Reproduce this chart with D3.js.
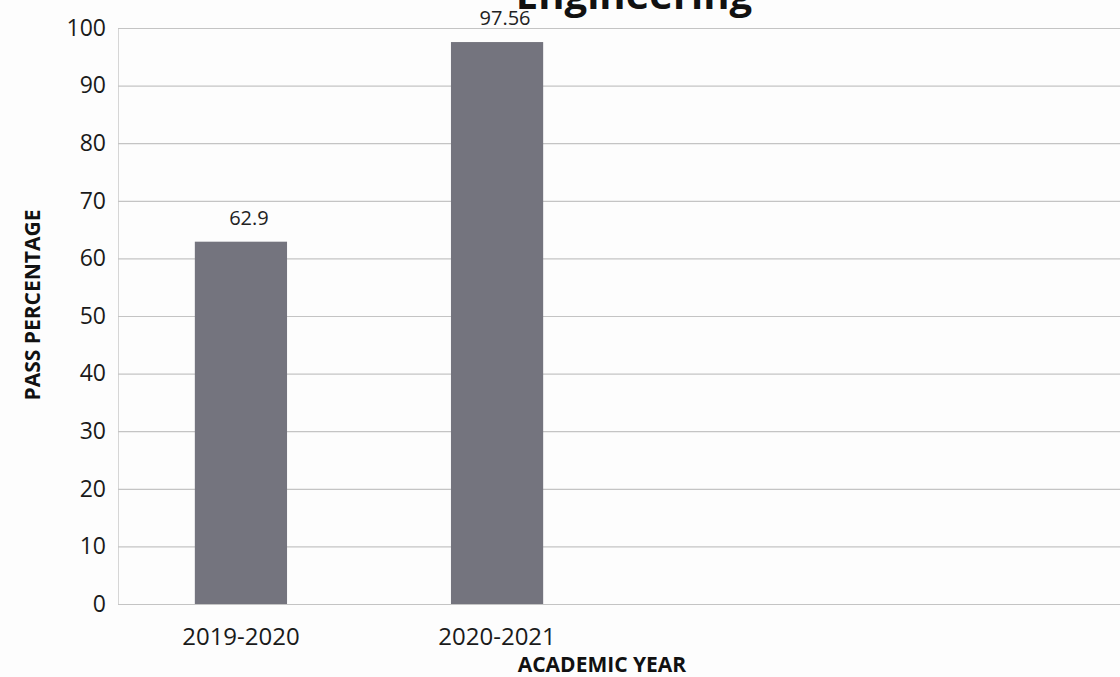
<!DOCTYPE html>
<html><head><meta charset="utf-8">
<script src="https://cdn.jsdelivr.net/npm/d3@7"></script>
<style>body{margin:0;background:#fdfdfd}svg{display:block}</style>
</head><body>
<svg id="c" width="1120" height="677"></svg>
<script>
const categories = ["2019-2020", "2020-2021"];
const passPct = [62.9, 97.56];
const yTicks = [0, 10, 20, 30, 40, 50, 60, 70, 80, 90, 100];
const chartTitle = "Engineering";
const yTitle = "PASS PERCENTAGE";
const xTitle = "ACADEMIC YEAR";

(function () {
const svg = d3.select("#c");
const font = "'Open Sans', 'Noto Sans', sans-serif";
const mLeft = 118, mRight = 1120, mTop = 28, mBottom = 604;

const y = d3.scaleLinear().domain([0, 100]).range([mBottom, mTop]);
const x = d3.scaleBand().domain(categories).range([mLeft, mLeft + 2 * 251]).paddingInner(0.64).paddingOuter(0.30);

// gridlines
const yAxis = d3.axisLeft(y).tickValues(yTicks).tickSize(-(mRight - mLeft)).tickPadding(12).tickFormat(d3.format("d"));
const gy = svg.append("g").attr("transform", `translate(${mLeft},0)`).call(yAxis);
gy.select(".domain").attr("stroke", "#d6d6d6");
gy.selectAll(".tick line").attr("stroke", "#c4c4c4").attr("stroke-width", 1.2);
gy.selectAll(".tick text").attr("font-family", font).attr("font-size", 23).attr("fill", "#1a1a1a");

// bars
svg.append("g").selectAll("rect").data(passPct).join("rect")
  .attr("x", (d, i) => x(categories[i]))
  .attr("width", x.bandwidth())
  .attr("y", d => y(d))
  .attr("height", d => y(0) - y(d))
  .attr("fill", "#74747e");

// value labels
svg.append("g").selectAll("text").data(passPct).join("text")
  .attr("x", (d, i) => x(categories[i]) + x.bandwidth() / 2 + 8)
  .attr("y", d => y(d) - 17)
  .attr("text-anchor", "middle")
  .attr("font-family", font).attr("font-size", 20).attr("fill", "#222")
  .text(d => d);

// x axis labels
const xAxis = d3.axisBottom(x).tickSize(0).tickPadding(24);
const gx = svg.append("g").attr("transform", `translate(0,${mBottom})`).call(xAxis);
gx.select(".domain").attr("stroke", "#c4c4c4");
gx.selectAll(".tick text").attr("font-family", font).attr("font-size", 24).attr("fill", "#1a1a1a");

// titles
svg.append("text").attr("x", 634).attr("y", 9).attr("text-anchor", "middle")
  .attr("font-family", font).attr("font-weight", "bold").attr("font-size", 40).attr("fill", "#111").text(chartTitle);
svg.append("text").attr("transform", "translate(40,305) rotate(-90)").attr("text-anchor", "middle")
  .attr("font-family", font).attr("font-weight", "bold").attr("font-size", 21).attr("fill", "#111").text(yTitle);
svg.append("text").attr("x", 602).attr("y", 672).attr("text-anchor", "middle")
  .attr("font-family", font).attr("font-weight", "bold").attr("font-size", 21).attr("fill", "#111").text(xTitle);
})();
</script>
</body></html>
